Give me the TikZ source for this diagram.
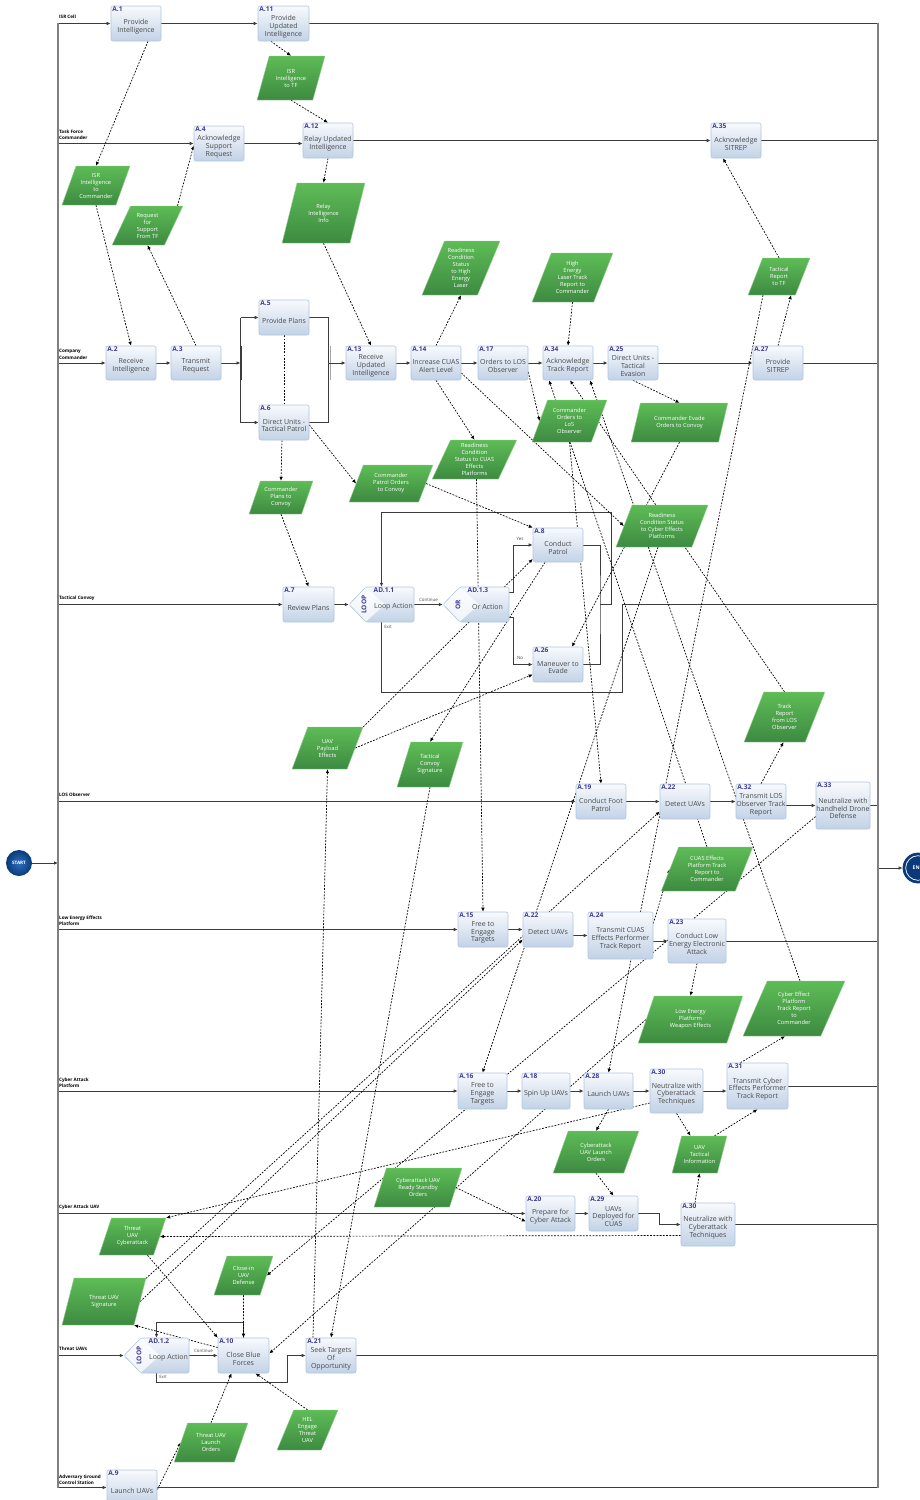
\documentclass[tikz,border=0pt]{standalone}
\usepackage{fontspec}
\setmainfont{Open Sans}
\usetikzlibrary{shapes.geometric,arrows.meta}
\definecolor{lanec}{HTML}{3C3C3C}
\definecolor{framec}{HTML}{808080}
\definecolor{proctop}{HTML}{F8FAFD}
\definecolor{procbot}{HTML}{C2D2E6}
\definecolor{procborder}{HTML}{B0C6DF}
\definecolor{idc}{HTML}{3B3A96}
\definecolor{proctextc}{HTML}{4A4A4A}
\definecolor{datatop}{HTML}{5EBC56}
\definecolor{databot}{HTML}{3D8A41}
\definecolor{databorder}{HTML}{8FD08A}
\definecolor{startin}{HTML}{2E70BC}
\definecolor{startout}{HTML}{0A3A7A}
\pgfdeclarelayer{bg}
\pgfsetlayers{bg,main}

% process step: name, x1, y1, x2, y2, id, text
\newcommand\proc[7]{%
  \node[procbox, minimum width={#4-#2}, minimum height={#5-#3}] (#1) at ({(#2+#4)/2},{(#3+#5)/2}) {};
  \node[idtext, anchor=north west] at ([shift={(1,0.5)}]#1.north west) {#6};
  \node[proctext] at ([shift={(0,3)}]#1.center) {#7};
}
% data object: name, x1, y1, x2, y2, text
\newcommand\datum[6]{%
  \node[databox, minimum width={#4-#2}, minimum height={#5-#3}] (#1) at ({(#2+#4)/2},{(#3+#5)/2}) {#6};
}
% loop / or gateway: name, x1, y1, x2, y2, id, text, side word
\newcommand\gate[8]{%
  \shade[top color=proctop, bottom color=procbot, draw=procborder, line width=0.6pt, rounded corners=1.5pt]
    (#2,{(#3+#5)/2}) -- (#2+17,#3) -- (#4,#3) -- (#4,#5) -- (#2+17,#5) -- cycle;
  \fill[white, opacity=0.75] (#2+1,{(#3+#5)/2}) -- (#2+17,#3+0.6) -- (#2+36,{(#3+#5)/2}) -- (#2+17,#5-0.6) -- cycle;
  \node[inner sep=0pt, minimum width={#4-#2}, minimum height={#5-#3}] (#1) at ({(#2+#4)/2},{(#3+#5)/2}) {};
  \node[idtext, anchor=north west] at (#2+24,#3+0.5) {#6};
  \node[proctext] at (#2+44.5,{(#3+#5)/2+2.5}) {#7};
  \node[idtext, rotate=90] at (#2+15,{(#3+#5)/2}) {#8};
}

\begin{document}
\begin{tikzpicture}[x=1pt, y=-1pt,
  lane/.style={draw=lanec, line width=0.9pt, -{Latex[length=4pt,width=3.6pt]}},
  laneplain/.style={draw=lanec, line width=0.9pt},
  flow/.style={draw=black, line width=0.7pt, dash pattern=on 1.8pt off 1.4pt, -{Latex[length=4pt,width=3.6pt]}},
  assoc/.style={draw=black, line width=0.7pt, dash pattern=on 1.8pt off 1.4pt},
  procbox/.style={rectangle, rounded corners=2pt, draw=procborder, line width=0.6pt, top color=proctop, bottom color=procbot, inner sep=0pt},
  proctext/.style={font=\fontsize{7}{7.8}\selectfont, text=proctextc, align=center, inner sep=0pt},
  idtext/.style={font=\fontsize{6.6}{7}\selectfont\bfseries, text=idc, inner sep=0.5pt},
  databox/.style={trapezium, trapezium left angle=65, trapezium right angle=115, trapezium stretches=true,
    inner sep=0pt, top color=datatop, bottom color=databot, draw=databorder, line width=0.4pt,
    text=white, font=\fontsize{5.7}{7}\selectfont, align=center},
  lanelab/.style={font=\fontsize{4.6}{6.4}\selectfont\bfseries, align=left, inner sep=0pt, anchor=west},
  smalllab/.style={font=\fontsize{4.4}{5}\selectfont, text=proctextc, inner sep=0pt}
]
\useasboundingbox (0,0) rectangle (919,1500);

% ---------- swimlane frame and titles ----------
\draw[framec, line width=1.6pt] (58,23) -- (58,1488);
\draw[framec, line width=1.6pt] (878,23) -- (878,1488);
\node[lanelab] at (59,17) {ISR Cell};
\node[lanelab] at (59,135) {Task Force\\Commander};
\node[lanelab] at (59,354.5) {Company\\Commander};
\node[lanelab] at (59,598) {Tactical Convoy};
\node[lanelab] at (59,795) {LOS Observer};
\node[lanelab] at (59,920.5) {Low Energy Effects\\Platform};
\node[lanelab] at (59,1082.5) {Cyber Attack\\Platform};
\node[lanelab] at (59,1207) {Cyber Attack UAV};
\node[lanelab] at (59,1349) {Threat UAVs};
\node[lanelab] at (59,1479.5) {Adversary Ground\\Control Station};

\coordinate (isrL) at (58,23.5);   \coordinate (isrR) at (878,23.5);
\coordinate (tfL) at (58,143.5);   \coordinate (tfR) at (878,140.5);
\coordinate (ccL) at (58,363);     \coordinate (ccR) at (878,363);
\coordinate (tcL) at (58,604.5);   \coordinate (tcR) at (878,604.5);
\coordinate (losL) at (58,801.5);  \coordinate (losR) at (878,805.5);
\coordinate (leL) at (58,929.5);   \coordinate (leR) at (878,941);
\coordinate (capL) at (58,1091);   \coordinate (capR) at (878,1086);
\coordinate (cuL) at (58,1213.5);  \coordinate (cuR) at (878,1224.5);
\coordinate (thL) at (58,1355.5);  \coordinate (thR) at (878,1355.5);
\coordinate (agL) at (58,1487.5);  \coordinate (agR) at (878,1487.5);
\coordinate (startR) at (58,863);  \coordinate (endL) at (878,868);

% ---------- process steps ----------
\proc{a1}{111}{6}{161}{41}{A.1}{Provide\\Intelligence}
\proc{a11}{258}{6}{309}{41}{A.11}{Provide\\Updated\\Intelligence}
\proc{a4}{194}{126}{244}{161}{A.4}{Acknowledge\\Support\\Request}
\proc{a12}{303}{123}{353}{158}{A.12}{Relay Updated\\Intelligence}
\proc{a35}{711}{123}{761}{158}{A.35}{Acknowledge\\SITREP}
\proc{a2}{106}{346}{156}{380}{A.2}{Receive\\Intelligence}
\proc{a3}{171}{346}{221}{380}{A.3}{Transmit\\Request}
\proc{a5}{259}{300}{309}{335}{A.5}{Provide Plans}
\proc{a6}{259}{405}{309}{440}{A.6}{Direct Units -\\Tactical Patrol}
\proc{a13}{346}{346}{396}{380}{A.13}{Receive\\Updated\\Intelligence}
\proc{a14}{411}{346}{461}{380}{A.14}{Increase CUAS\\Alert Level}
\proc{a17}{478}{346}{528}{380}{A.17}{Orders to LOS\\Observer}
\proc{a34}{543}{346}{593}{380}{A.34}{Acknowledge\\Track Report}
\proc{a25}{608}{346}{658}{380}{A.25}{Direct Units -\\Tactical\\Evasion}
\proc{a27}{753}{346}{803}{380}{A.27}{Provide\\SITREP}
\proc{a7}{283}{587}{334}{622}{A.7}{Review Plans}
\proc{a8}{533}{528}{583}{562}{A.8}{Conduct\\Patrol}
\proc{a26}{533}{647}{583}{682}{A.26}{Maneuver to\\Evade}
\proc{a19}{576}{784}{626}{819}{A.19}{Conduct Foot\\Patrol}
\proc{a22o}{660}{784}{710}{819}{A.22}{Detect UAVs}
\proc{a32}{736}{784}{786}{819}{A.32}{Transmit LOS\\Observer Track\\Report}
\proc{a33}{816}{782}{870}{829}{A.33}{Neutralize with\\handheld Drone\\Defense}
\proc{a15}{458}{912}{508}{947}{A.15}{Free to\\Engage\\Targets}
\proc{a22l}{523}{912}{573}{947}{A.22}{Detect UAVs}
\proc{a24}{588}{912}{653}{959}{A.24}{Transmit CUAS\\Effects Performer\\Track Report}
\proc{a23}{668}{919}{726}{963}{A.23}{Conduct Low\\Energy Electronic\\Attack}
\proc{a16}{458}{1073}{507}{1109}{A.16}{Free to\\Engage\\Targets}
\proc{a18}{522}{1073}{570}{1109}{A.18}{Spin Up UAVs}
\proc{a28}{584}{1073}{633}{1109}{A.28}{Launch UAVs}
\proc{a30p}{650}{1069}{703}{1113}{A.30}{Neutralize with\\Cyberattack\\Techniques}
\proc{a31}{727}{1063}{788}{1109}{A.31}{Transmit Cyber\\Effects Performer\\Track Report}
\proc{a20}{526}{1196}{575}{1231}{A.20}{Prepare for\\Cyber Attack}
\proc{a29}{589}{1196}{638}{1231}{A.29}{UAVs\\Deployed for\\CUAS}
\proc{a30u}{681}{1203}{735}{1246}{A.30}{Neutralize with\\Cyberattack\\Techniques}
\proc{a10}{218}{1338}{269}{1373}{A.10}{Close Blue\\Forces}
\proc{a21}{306}{1338}{356}{1373}{A.21}{Seek Targets\\Of\\Opportunity}
\proc{a9}{107}{1470}{157}{1505}{A.9}{Launch UAVs}

\gate{ad11}{349}{587}{414}{622}{AD.1.1}{Loop Action}{LOOP}
\gate{ad13}{443}{587}{509}{622}{AD.1.3}{Or Action}{OR}
\gate{ad12}{124}{1338}{189}{1373}{AD.1.2}{Loop Action}{LOOP}

% ---------- data objects ----------
\datum{isrtf}{257}{56}{325}{100}{ISR\\Intelligence\\to TF}
\datum{isrcmd}{62}{166}{130}{205}{ISR\\Intelligence\\to\\Commander}
\datum{req}{112}{206}{183}{245}{Request\\for\\Support\\From TF}
\datum{relay}{282}{183}{365}{243}{Relay\\Intelligence\\Info}
\datum{rhel}{422}{241}{500}{295}{Readiness\\Condition\\Status\\to High\\Energy\\Laser}
\datum{helrep}{532}{253}{613}{302}{High\\Energy\\Laser Track\\Report to\\Commander}
\datum{trtf}{748}{258}{810}{295}{Tactical\\Report\\to TF}
\datum{colos}{532}{400}{607}{442}{Commander\\Orders to\\LoS\\Observer}
\datum{evade}{631}{403}{728}{442}{Commander Evade\\Orders to Convoy}
\datum{rcuas}{432}{440}{517}{479}{Readiness\\Condition\\Status to CUAS\\Effects\\Platforms}
\datum{patrol}{349}{465}{433}{502}{Commander\\Patrol Orders\\to Convoy}
\datum{plans}{249}{481}{313}{514}{Commander\\Plans to\\Convoy}
\datum{rcyber}{616}{505}{708}{547}{Readiness\\Condition Status\\to Cyber Effects\\Platforms}
\datum{trlos}{744}{692}{825}{742}{Track\\Report\\from LOS\\Observer}
\datum{payload}{292}{727}{363}{769}{UAV\\Payload\\Effects}
\datum{tcs}{397}{742}{463}{787}{Tactical\\Convoy\\Signature}
\datum{cuasetr}{661}{847}{753}{891}{CUAS Effects\\Platform Track\\Report to\\Commander}
\datum{lepwe}{638}{996}{743}{1043}{Low Energy\\Platform\\Weapon Effects}
\datum{ceptr}{743}{981}{845}{1036}{Cyber Effect\\Platform\\Track Report\\to\\Commander}
\datum{cuavlaunch}{553}{1131}{639}{1173}{Cyberattack\\UAV Launch\\Orders}
\datum{uavti}{672}{1136}{727}{1173}{UAV\\Tactical\\Information}
\datum{standby}{374}{1168}{462}{1207}{Cyberattack UAV\\Ready Standby\\Orders}
\datum{tcyber}{99}{1218}{166}{1255}{Threat\\UAV\\Cyberattack}
\datum{closein}{214}{1256}{273}{1295}{Close-in\\UAV\\Defense}
\datum{tsig}{62}{1278}{146}{1325}{Threat UAV\\Signature}
\datum{tlaunch}{174}{1423}{248}{1462}{Threat UAV\\Launch\\Orders}
\datum{helengage}{277}{1410}{338}{1450}{HEL\\Engage\\Threat\\UAV}

% ---------- start / end ----------
\node[circle, minimum size=26pt, inner sep=0pt, inner color=startin, outer color=startout,
  text=white, font=\fontsize{4.6}{5}\selectfont\bfseries] (start) at (19,863) {START};
\node[circle, minimum size=30pt, inner sep=0pt, fill=startout, draw=startout, line width=0.8pt,
  text=white, font=\fontsize{5}{5}\selectfont\bfseries] (end) at (918,868) {END};
\draw[white, line width=0.7pt] (end.center) circle (12.3);

\begin{pgfonlayer}{bg}
\fill[white] (0,0) rectangle (919,1500);
% ---------- sequence flow in the lanes ----------
\draw[lane] (isrL) -- (a1.west);
\draw[lane] (a1.east) -- (a11.west);
\draw[laneplain] (a11.east) -- (isrR);

\draw[lane] (tfL) -- (a4.west);
\draw[lane] (a4.east) -- (a4.east -| a12.west);
\draw[lane] (a12.east) -- (a12.east -| a35.west);
\draw[laneplain] (a35.east) -- (tfR);

\draw[lane] (ccL) -- (a2.west);
\draw[lane] (a2.east) -- (a3.west);
\coordinate (split) at (240.5,363);
\coordinate (merge) at (328.5,363);
\draw[lane] (a3.east) -- (split);
\draw[laneplain] (split |- a5.west) -- (split |- a6.west);
\draw[lanec, line width=1.4pt] (241,346) -- (241,380);
\draw[lane] (split |- a5.west) -- (a5.west);
\draw[lane] (split |- a6.west) -- (a6.west);
\draw[laneplain] (a5.east) -| (merge) |- (a6.east);
\draw[black!35, line width=0.8pt] (330,346) -- (330,380);
\draw[lane] (merge) -- (a13.west);
\draw[lane] (a13.east) -- (a14.west);
\draw[lane] (a14.east) -- (a17.west);
\draw[lane] (a17.east) -- (a34.west);
\draw[lane] (a34.east) -- (a25.west);
\draw[lane] (a25.east) -- (a27.west);
\draw[laneplain] (a27.east) -- (ccR);

\draw[lane] (tcL) -- (a7.west);
\draw[lane] (a7.east) -- (ad11.west);
\draw[lane] (ad11.east) -- (ad13.west) node[smalllab, midway, above=3pt] {Continue};
\draw[lane] ([shift={(0,-12.5)}]ad13.east) -- ++(4,0) |- (a8.west);
\draw[lane] ([shift={(0,12.5)}]ad13.east) -- ++(4,0) |- (a26.west);
\node[smalllab] at (520,539) {Yes};
\node[smalllab] at (520,658) {No};
\coordinate (mrg) at (600,604.5);
\draw[laneplain] (a8.east) -| (mrg) |- (a26.east);
\draw[lane] (mrg) -- ++(11,0) -- ++(0,-92.5) -| (ad11.north);
\draw[laneplain] (ad11.south) |- (622,692) |- (tcR);
\node[smalllab] at (388,627) {Exit};

\draw[lane] (losL) -- (a19.west);
\draw[lane] (a19.east) -- (a22o.west);
\draw[lane] (a22o.east) -- (a32.west);
\draw[lane] (a32.east |- a33.west) -- (a33.west);
\draw[laneplain] (a33.east) -- (losR);

\draw[lane] (start.east) -- (startR);
\draw[lane] (endL) -- (end.west);

\draw[lane] (leL) -- (a15.west);
\draw[lane] (a15.east) -- (a22l.west);
\draw[lane] (a22l.east |- a24.west) -- (a24.west);
\draw[lane] (a24.east |- a23.west) -- (a23.west);
\draw[laneplain] (a23.east) -- (leR);

\draw[lane] (capL) -- (a16.west);
\draw[lane] (a16.east) -- (a18.west);
\draw[lane] (a18.east) -- (a28.west);
\draw[lane] (a28.east) -- (a30p.west);
\draw[lane] (a30p.east) -- (a30p.east -| a31.west);
\draw[laneplain] (a31.east) -- (capR);

\draw[lane] (cuL) -- (a20.west);
\draw[lane] (a20.east) -- (a29.west);
\draw[lane] (a29.east) -- ++(21,0) |- (a30u.west);
\draw[laneplain] (a30u.east) -- (cuR);

\draw[lane] (thL) -- (ad12.west);
\draw[lane] (ad12.east) -- (a10.west) node[smalllab, midway, above=3pt] {Continue};
\draw[lane] (a10.north) -- ++(0,-15) -| (ad12.north);
\draw[lane] (ad12.south) |- (287,1382) |- (a21.west);
\node[smalllab] at (163,1377) {Exit};
\draw[laneplain] (a21.east) -- (thR);

\draw[lane] (agL) -- (a9.west);
\draw[laneplain] (a9.east) -- (agR);

% ---------- information flows ----------
\draw[flow] ([shift={(12,0)}]a1.south) -- (isrcmd.north);
\draw[flow] ([shift={(-12.5,0)}]a11.south) -- (isrtf.north);
\draw[flow] (isrtf.south) -- (a12.north);
\draw[flow] (a12.south) -- (relay.north);
\draw[flow] (isrcmd.south) -- (a2.north);
\draw[flow] (a3.north) -- (req.south);
\draw[flow] ([shift={(30,0)}]req.north) -- ([shift={(0,2)}]a4.west);
\draw[flow] (relay.south) -- (a13.north);
\draw[assoc] (a5.south) -- (a6.north);
\draw[flow] ([shift={(-2,0)}]a6.south) -- (plans.north);
\draw[flow] ([shift={(0,2.5)}]a6.east) -- (patrol.west);
\draw[flow] (plans.south) -- (a7.north);
\draw[flow] (patrol.east) -- (a8.north west);
\draw[flow] (a14.north) -- (rhel.south);
\draw[flow] (helrep.south) -- (a34.north);
\draw[flow] (a27.north) -- ([shift={(12,0)}]trtf.south);
\draw[flow] (trtf.north) -- ([shift={(-13,0)}]a35.south);
\draw[flow] (a14.south) -- (rcuas.north);
\draw[flow] ([shift={(0,10)}]a14.east) -- (rcyber.west);
\draw[flow] ([shift={(2,0)}]rcuas.south) -- (a15.north);
\draw[flow] ([shift={(0,9)}]a17.east) -- (colos.west);
\draw[flow] (colos.south) -- (a19.north);
\draw[flow] (a25.south) -- (evade.north);
\draw[flow] (evade.south) -- ([shift={(14,0)}]a26.north);
\draw[flow] ([shift={(-4,0)}]rcyber.south) -- (a16.north);
\draw[flow] ([shift={(-13,0)}]a8.south) -- (tcs.north);
\draw[flow] (payload.top right corner) -- ([shift={(0,14)}]a8.west);
\draw[flow] (payload.east) -- ([shift={(0,10)}]a26.west);
\draw[flow] ([shift={(-18,0)}]a21.north) -- (payload.south);
\draw[flow] (tcs.south) -- (a21.north);
\draw[flow] (a32.north) -- ([shift={(-1,0)}]trlos.south);
\draw[flow] (trlos.north) -- ([shift={(2,0)}]a34.south);
\draw[flow] (cuasetr.north) -- ([shift={(-19,0)}]a34.south);
\draw[flow] ([shift={(6,0)}]ceptr.north) -- ([shift={(22,0)}]a34.south);
\draw[flow] ([shift={(0,-12)}]a24.east) -- (cuasetr.west);
\draw[flow] ([shift={(0,11)}]a33.west) -- (closein.east);
\draw[flow] ([shift={(-5,5)}]tsig.top right corner) -- ([shift={(0,10)}]a22o.west);
\draw[flow] (tsig.east) -- ([shift={(0,10)}]a22l.west);
\draw[flow] ([shift={(-16,0)}]trtf.south) -- (a28.north);
\draw[flow] (a23.south) -- (lepwe.north);
\draw[flow] (lepwe.west) -- ([shift={(0,-2)}]a10.east);
\draw[flow] (a28.south) -- (cuavlaunch.north);
\draw[flow] (cuavlaunch.south) -- (a29.north);
\draw[flow] (a30p.south) -- ([shift={(-9,0)}]uavti.north);
\draw[flow] ([shift={(-13,0)}]a30u.north) -- (uavti.south);
\draw[flow] ([shift={(15,0)}]uavti.north) -- (a31.south);
\draw[flow] ([shift={(-17,0)}]a31.north) -- ([shift={(-9,0)}]ceptr.south);
\draw[flow] (standby.east) -- ([shift={(0,8)}]a20.west);
\draw[flow] ([shift={(0,12)}]a30p.west) -- (tcyber.top right corner);
\draw[flow] ([shift={(0,11)}]a30u.west) -- (tcyber.east);
\draw[flow] ([shift={(15,0)}]tcyber.south) -- (a10.north west);
\draw[flow] ([shift={(0,-8)}]a10.west) -- (tsig.bottom right corner);
\draw[flow] (closein.south) -- (a10.north);
\draw[flow] ([shift={(0,2)}]a9.east) -- (tlaunch.west);
\draw[flow] (tlaunch.north) -- ([shift={(-12,0)}]a10.south);
\draw[flow] (helengage.north) -- ([shift={(12,0)}]a10.south);
\end{pgfonlayer}
\end{tikzpicture}
\end{document}
